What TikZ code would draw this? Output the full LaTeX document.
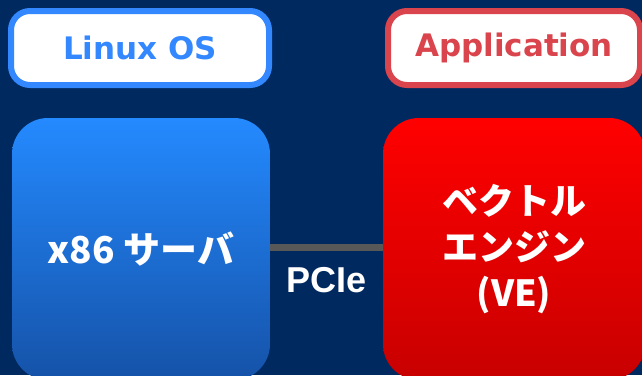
\documentclass[tikz,border=0pt]{standalone}
\usepackage{fontspec}
\newfontfamily\labelfont{DejaVu Sans}
\newfontfamily\pciefont{Liberation Sans}
\newfontfamily\cjk{Noto Sans CJK JP}
\definecolor{bgnavy}{RGB}{0,42,95}
\definecolor{osblue}{RGB}{51,136,255}
\definecolor{appred}{RGB}{218,68,76}
\definecolor{srvtop}{RGB}{36,138,255}
\definecolor{srvbot}{RGB}{21,82,168}
\definecolor{vetop}{RGB}{255,0,0}
\definecolor{vebot}{RGB}{200,0,0}
\definecolor{linkgray}{RGB}{88,88,88}
\begin{document}
\begin{tikzpicture}[x=1pt,y=-1pt,
  toplabel/.style={draw, line width=6pt, fill=white, rounded corners=19pt,
    minimum height=74pt, inner sep=0pt,
    font=\labelfont\bfseries\fontsize{31}{37}\selectfont},
  hwbox/.style={rounded corners=36pt, minimum height=262pt, inner sep=0pt,
    align=center, text=white, font=\cjk\bfseries\fontsize{36}{46}\selectfont},
  link/.style={draw=linkgray, line width=7pt},
  linklabel/.style={text=white, inner sep=0pt, font=\pciefont\bfseries\fontsize{36}{40}\selectfont}]
\useasboundingbox (0,0) rectangle (642,375);
\clip (0,0) rectangle (642,375);
\fill[bgnavy] (0,0) rectangle (642,375);
% top labels
\node[toplabel, draw=osblue, text=osblue, minimum width=258pt] (os) at (140,48) {\raisebox{-2pt}{Linux OS}};
\node[toplabel, draw=appred, text=appred, minimum width=252pt] (app) at (514,48) {\raisebox{-2pt}{Application}};
% hardware boxes
\node[hwbox, top color=srvtop, bottom color=srvbot, minimum width=258pt] (srv) at (141,249) {\fontsize{37}{46}\selectfont x86 サーバ};
\node[hwbox, top color=vetop, bottom color=vebot, minimum width=262pt] (ve) at (514,249) {\raisebox{-4pt}{ベクトル}\\\raisebox{-4pt}{エンジン}\\\raisebox{-4pt}{(VE)}};
% link
\draw[link] (srv.east |- 0,247) -- (ve.west |- 0,247);
\node[linklabel] (pcie) at (327,280) {PCIe};
\end{tikzpicture}
\end{document}
